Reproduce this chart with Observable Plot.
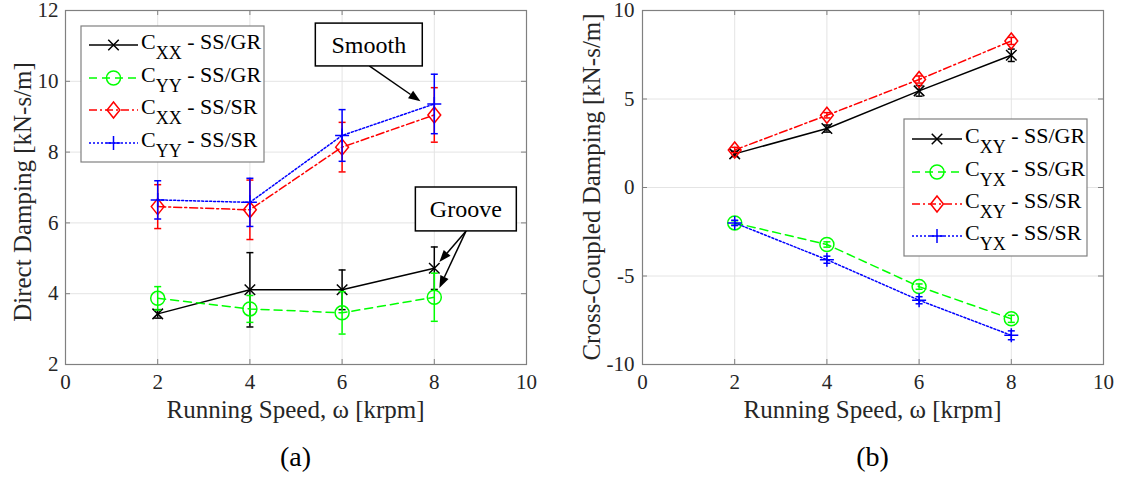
<!DOCTYPE html>
<html><head><meta charset="utf-8">
<script src="https://cdn.jsdelivr.net/npm/d3@7"></script>
<script src="https://cdn.jsdelivr.net/npm/@observablehq/plot@0.6"></script>
<style>
html,body{margin:0;padding:0;background:#fff;}
#root{position:relative;width:1122px;height:481px;overflow:hidden;font-family:"Liberation Serif","DejaVu Serif",serif;}
.panel{position:absolute;top:0;}
#overlay{position:absolute;top:0;left:0;}
svg text{font-family:"Liberation Serif","DejaVu Serif",serif;}
</style></head><body><div id="root"></div>
<script>
// ---------- data ----------
const speeds = [2, 4, 6, 8];
const xTicks = [0, 2, 4, 6, 8, 10];
const yTicksA = [2, 4, 6, 8, 10, 12];
const yTicksB = [-10, -5, 0, 5, 10];

// panel (a): direct damping [kN-s/m]
const cxxGR = [3.43, 4.11, 4.11, 4.72];
const cxxGRerr = [0.12, 1.05, 0.56, 0.6];
const cyyGR = [3.87, 3.57, 3.46, 3.9];
const cyyGRerr = [0.33, 0.38, 0.6, 0.68];
const cxxSR = [6.46, 6.37, 8.14, 9.05];
const cxxSRerr = [0.62, 0.84, 0.7, 0.77];
const cyySR = [6.65, 6.58, 8.47, 9.36];
const cyySRerr = [0.54, 0.68, 0.73, 0.84];

// panel (b): cross-coupled damping [kN-s/m]
const cxyGR = [1.9, 3.33, 5.46, 7.47];
const cxyGRerr = [0.15, 0.2, 0.3, 0.35];
const cyxGR = [-2.0, -3.22, -5.6, -7.42];
const cyxGRerr = [0.12, 0.15, 0.15, 0.2];
const cxySR = [2.12, 4.08, 6.1, 8.28];
const cxySRerr = [0.15, 0.15, 0.2, 0.2];
const cyxSR = [-2.0, -4.08, -6.37, -8.35];
const cyxSRerr = [0.15, 0.2, 0.2, 0.25];

// ---------- symbols ----------
const rad = s => Math.sqrt(s / Math.PI);
const symTimes = {draw(c, s){const a = rad(s) * 0.75; c.moveTo(-a,-a); c.lineTo(a,a); c.moveTo(-a,a); c.lineTo(a,-a);}};
const symPlus = {draw(c, s){const r = rad(s); c.moveTo(-r,0); c.lineTo(r,0); c.moveTo(0,-r); c.lineTo(0,r);}};
const symDiamond = {draw(c, s){const r = rad(s); c.moveTo(0,-r); c.lineTo(r*0.8,0); c.lineTo(0,r); c.lineTo(-r*0.8,0); c.closePath();}};
const symCircle = {draw(c, s){const r = rad(s); c.moveTo(r,0); c.arc(0,0,r,0,2*Math.PI); c.closePath();}};
const symCap = {draw(c, s){const r = rad(s); c.moveTo(-r,0); c.lineTo(r,0);}};

const BLACK = "#000000", GREEN = "#00ff00", RED = "#ff0000", BLUE = "#0000ff";
const DASH = "8,5", DASHDOT = "8,3,2,3", DOT = "2,2";

const seriesA = [
  {vals: cxxGR, err: cxxGRerr, color: BLACK, dash: null, sym: symTimes, r: 7, sub: "XX", tail: " - SS/GR"},
  {vals: cyyGR, err: cyyGRerr, color: GREEN, dash: DASH, sym: symCircle, r: 7, sub: "YY", tail: " - SS/GR"},
  {vals: cxxSR, err: cxxSRerr, color: RED, dash: DASHDOT, sym: symDiamond, r: 8, sub: "XX", tail: " - SS/SR"},
  {vals: cyySR, err: cyySRerr, color: BLUE, dash: DOT, sym: symPlus, r: 7, sub: "YY", tail: " - SS/SR"}
];
const seriesB = [
  {vals: cxyGR, err: cxyGRerr, color: BLACK, dash: null, sym: symTimes, r: 7, sub: "XY", tail: " - SS/GR"},
  {vals: cyxGR, err: cyxGRerr, color: GREEN, dash: DASH, sym: symCircle, r: 7, sub: "YX", tail: " - SS/GR"},
  {vals: cxySR, err: cxySRerr, color: RED, dash: DASHDOT, sym: symDiamond, r: 8, sub: "XY", tail: " - SS/SR"},
  {vals: cyxSR, err: cyxSRerr, color: BLUE, dash: DOT, sym: symPlus, r: 7, sub: "YX", tail: " - SS/SR"}
];

const FONT = "'Liberation Serif', 'DejaVu Serif', serif";
const W = 561, H = 430, MT = 10, MB = 66;

function panel(cfg) {
  const pw = W - cfg.mL - cfg.mR, ph = H - MT - MB;
  const marks = [
    Plot.ruleX(xTicks, {x: d => d, stroke: "#e4e4e4", strokeWidth: 1}),
    Plot.ruleY(cfg.yTicks, {y: d => d, stroke: "#e4e4e4", strokeWidth: 1}),
    Plot.tickX(xTicks, {x: d => d, stroke: "#808080", insetTop: ph - 5}),
    Plot.tickX(xTicks, {x: d => d, stroke: "#808080", insetBottom: ph - 5}),
    Plot.tickY(cfg.yTicks, {y: d => d, stroke: "#808080", insetRight: pw - 5}),
    Plot.tickY(cfg.yTicks, {y: d => d, stroke: "#808080", insetLeft: pw - 5}),
    Plot.frame({stroke: "#808080", strokeWidth: 1.2}),
    Plot.axisX({ticks: xTicks, tickSize: 0, tickPadding: 10, tickFormat: d => String(d), label: null, fontSize: 21}),
    Plot.axisY({ticks: cfg.yTicks, tickSize: 0, tickPadding: cfg.yPad, tickFormat: d => String(d), label: null, fontSize: 21})
  ];
  cfg.list.forEach(s => {
    const rows = speeds.map((x, i) => ({x, y: s.vals[i], lo: s.vals[i] - s.err[i], hi: s.vals[i] + s.err[i]}));
    marks.push(Plot.ruleX(rows, {x: "x", y1: "lo", y2: "hi", stroke: s.color, strokeWidth: 1.5}));
    marks.push(Plot.dot(rows, {x: "x", y: "lo", symbol: symCap, r: 3.5, stroke: s.color, fill: "none", strokeWidth: 1.5}));
    marks.push(Plot.dot(rows, {x: "x", y: "hi", symbol: symCap, r: 3.5, stroke: s.color, fill: "none", strokeWidth: 1.5}));
    const lo = {x: "x", y: "y", stroke: s.color, strokeWidth: 1.5};
    if (s.dash) lo.strokeDasharray = s.dash;
    marks.push(Plot.line(rows, lo));
    marks.push(Plot.dot(rows, {x: "x", y: "y", symbol: s.sym, r: s.r, stroke: s.color, fill: "none", strokeWidth: 1.5}));
  });
  const p = Plot.plot({
    width: W, height: H, marginLeft: cfg.mL, marginRight: cfg.mR, marginTop: MT, marginBottom: MB,
    x: {domain: [0, 10]}, y: {domain: cfg.yDomain},
    style: {fontFamily: FONT, fontSize: "21px", color: "#262626", background: "transparent", overflow: "visible"},
    marks
  });
  const wrap = document.createElement("div");
  wrap.className = "panel";
  wrap.style.left = cfg.left + "px";
  wrap.appendChild(p);
  document.getElementById("root").appendChild(wrap);
  return {plot: p, left: cfg.left, x: p.scale("x"), y: p.scale("y"), cfg};
}

const A = panel({left: 0, mL: 65, mR: 35, yDomain: [2, 12], yTicks: yTicksA, yPad: 7, list: seriesA});
const B = panel({left: 561, mL: 81, mR: 19, yDomain: [-10, 10], yTicks: yTicksB, yPad: 8, list: seriesB});

// ---------- overlay: titles, legends, annotations ----------
const svg = d3.select("#root").append("svg").attr("id", "overlay")
  .attr("width", 1122).attr("height", 481).style("font-family", FONT);

function px(P, v) { return P.left + P.x.apply(v); }
function py(P, v) { return P.y.apply(v); }

function titles(P, ylabel, yx, yc, tag) {
  const x0 = px(P, 0), x1 = px(P, 10);
  const cx = (x0 + x1) / 2;
  svg.append("text").attr("x", cx).attr("y", 418).attr("text-anchor", "middle")
    .attr("font-size", 25).attr("fill", "#262626")
    .text("Running Speed, ω [krpm]");
  svg.append("text").attr("transform", `translate(${yx},${yc}) rotate(-90)`).attr("text-anchor", "middle")
    .attr("font-size", 25).attr("fill", "#262626").text(ylabel);
  svg.append("text").attr("x", cx).attr("y", 466).attr("text-anchor", "middle")
    .attr("font-size", 28).attr("fill", "#000").text(tag);
}
titles(A, "Direct Damping [kN-s/m]", 31, 192, "(a)");
titles(B, "Cross-Coupled Damping [kN-s/m]", 600, 187, "(b)");

function legend(list, box, lx1, lx2, tx, rowsY) {
  const g = svg.append("g");
  g.append("rect").attr("x", box[0]).attr("y", box[1]).attr("width", box[2]).attr("height", box[3])
    .attr("fill", "#fff").attr("stroke", "#808080").attr("stroke-width", 1.2);
  list.forEach((s, i) => {
    const y = rowsY[i];
    const ln = g.append("line").attr("x1", lx1).attr("x2", lx2).attr("y1", y).attr("y2", y)
      .attr("stroke", s.color).attr("stroke-width", 1.5);
    if (s.dash) ln.attr("stroke-dasharray", s.dash);
    const sym = d3.symbol(s.sym, Math.PI * s.r * s.r)();
    g.append("path").attr("d", sym).attr("transform", `translate(${(lx1 + lx2) / 2},${y})`)
      .attr("fill", "none").attr("stroke", s.color).attr("stroke-width", 1.5);
    const t = g.append("text").attr("x", tx).attr("y", y + 4).attr("font-size", 22).attr("fill", "#000");
    t.append("tspan").text("C");
    t.append("tspan").attr("dy", 10).attr("font-size", 18).text(s.sub);
    t.append("tspan").attr("dy", -10).attr("font-size", 22).text(s.tail);
  });
}
legend(seriesA, [81, 26, 183, 136], 89, 138, 141, [45, 78, 110, 143]);
legend(seriesB, [904, 119, 183, 137], 912, 962, 965, [139, 172, 204, 236]);

// annotations (panel a, data coordinates)
const notes = [
  {label: "Smooth", box: [5.43, 7.75, 11.63, 10.42], from: [6.6, 10.42], to: [[7.71, 9.42]]},
  {label: "Groove", box: [7.6, 9.79, 7.0, 5.76], from: [8.7, 5.76], to: [[8.12, 4.88], [8.12, 4.15]]}
];
notes.forEach(n => {
  const x0 = px(A, n.box[0]), x1 = px(A, n.box[1]), y0 = py(A, n.box[2]), y1 = py(A, n.box[3]);
  const fx = px(A, n.from[0]), fy = py(A, n.from[1]);
  n.to.forEach(t => {
    const tx = px(A, t[0]), ty = py(A, t[1]);
    const ang = Math.atan2(ty - fy, tx - fx);
    const L = 12, Wd = 4.5;
    const bx = tx - L * Math.cos(ang), by = ty - L * Math.sin(ang);
    svg.append("line").attr("x1", fx).attr("y1", fy).attr("x2", bx).attr("y2", by)
      .attr("stroke", "#000").attr("stroke-width", 1.5);
    const nx = -Math.sin(ang), ny = Math.cos(ang);
    svg.append("path").attr("d", `M${tx},${ty}L${bx + nx * Wd},${by + ny * Wd}L${bx - nx * Wd},${by - ny * Wd}Z`)
      .attr("fill", "#000");
  });
  svg.append("rect").attr("x", x0).attr("y", y0).attr("width", x1 - x0).attr("height", y1 - y0)
    .attr("fill", "#fff").attr("stroke", "#000").attr("stroke-width", 1.5);
  svg.append("text").attr("x", (x0 + x1) / 2).attr("y", (y0 + y1) / 2 + 8).attr("text-anchor", "middle")
    .attr("font-size", 24).attr("fill", "#000").text(n.label);
});
</script></body></html>
